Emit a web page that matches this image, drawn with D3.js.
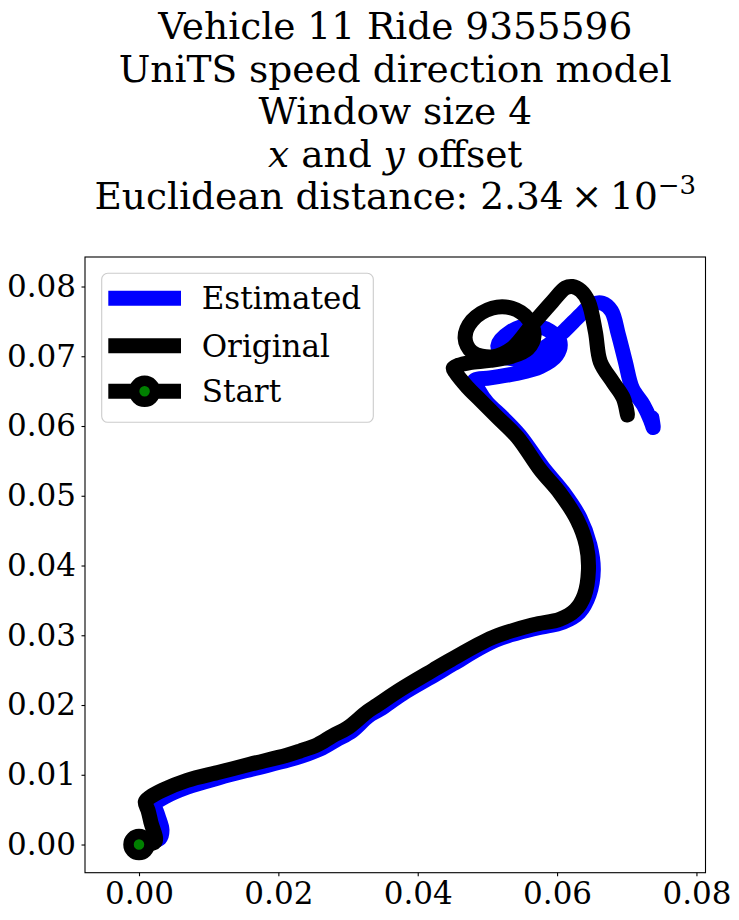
<!DOCTYPE html>
<html>
<head>
<meta charset="utf-8">
<script src="https://cdn.jsdelivr.net/npm/d3@7"></script>
<style>
  html, body { margin: 0; padding: 0; background: #fff; }
  svg { display: block; font-family: "DejaVu Serif", serif; }
</style>
</head>
<body>
<div id="chart"></div>
<script>
// ---------- data ----------
const titleLines = ["Vehicle 11 Ride 9355596", "UniTS speed direction model", "Window size 4"];
const xTicks = [0.00, 0.02, 0.04, 0.06, 0.08];
const yTicks = [0.00, 0.01, 0.02, 0.03, 0.04, 0.05, 0.06, 0.07, 0.08];
const legendLabels = ["Estimated", "Original", "Start"];
const startPoint = [0, 0];

const estimatedX = [0, 0.0030, 0.0033, 0.0027, 0.0023, 0.0037, 0.0069, 0.0116, 0.0162, 0.0214, 0.0234, 0.0260, 0.0283, 0.0306, 0.0329, 0.0346, 0.0378, 0.0426, 0.0451, 0.0512, 0.0570, 0.0609, 0.0632, 0.0646, 0.0652, 0.0647, 0.0633, 0.0609, 0.0580, 0.0546, 0.0517, 0.0500, 0.0487, 0.0481, 0.0504, 0.0540, 0.0576, 0.0599, 0.0604, 0.0590, 0.0561, 0.0533, 0.0515, 0.0525, 0.0554, 0.0587, 0.0612, 0.0633, 0.0650, 0.0665, 0.0678, 0.0688, 0.0698, 0.0708, 0.0724, 0.0734, 0.0738, 0.0736];
const estimatedY = [0, 0.0009, 0.0021, 0.0042, 0.0058, 0.0068, 0.0082, 0.0096, 0.0108, 0.0121, 0.0127, 0.0137, 0.0150, 0.0163, 0.0184, 0.0194, 0.0216, 0.0244, 0.0259, 0.0293, 0.0310, 0.0319, 0.0333, 0.0358, 0.0394, 0.0430, 0.0468, 0.0505, 0.0540, 0.0587, 0.0617, 0.0633, 0.0652, 0.0665, 0.0669, 0.0675, 0.0685, 0.0701, 0.0721, 0.0736, 0.0744, 0.0735, 0.0715, 0.0699, 0.0699, 0.0716, 0.0738, 0.0759, 0.0774, 0.0776, 0.0765, 0.0731, 0.0692, 0.0654, 0.0630, 0.0609, 0.0598, 0.0612];

const originalX = [0, 0.0023, 0.0017, 0.0013, 0.0009, 0.0016, 0.0034, 0.0069, 0.0116, 0.0159, 0.0212, 0.0231, 0.0256, 0.0278, 0.0299, 0.0327, 0.0342, 0.0375, 0.0422, 0.0446, 0.0508, 0.0566, 0.0604, 0.0626, 0.0639, 0.0645, 0.0642, 0.0629, 0.0604, 0.0576, 0.0543, 0.0514, 0.0490, 0.0471, 0.0454, 0.0451, 0.0458, 0.0475, 0.0504, 0.0535, 0.0558, 0.0567, 0.0558, 0.0535, 0.0507, 0.0478, 0.0468, 0.0478, 0.0507, 0.0535, 0.0564, 0.0593, 0.0612, 0.0622, 0.0634, 0.0645, 0.0655, 0.0662, 0.0680, 0.0695, 0.0701, 0.0699];
const originalY = [0, 0.0004, 0.0032, 0.0049, 0.0061, 0.0068, 0.0078, 0.0092, 0.0104, 0.0115, 0.0128, 0.0134, 0.0143, 0.0156, 0.0167, 0.0190, 0.0200, 0.0222, 0.0250, 0.0264, 0.0297, 0.0315, 0.0323, 0.0336, 0.0357, 0.0393, 0.0429, 0.0465, 0.0504, 0.0537, 0.0584, 0.0613, 0.0637, 0.0656, 0.0677, 0.0683, 0.0687, 0.0691, 0.0694, 0.0700, 0.0711, 0.0730, 0.0754, 0.0769, 0.0769, 0.0751, 0.0726, 0.0706, 0.0699, 0.0711, 0.0745, 0.0778, 0.0798, 0.0800, 0.0794, 0.0778, 0.0735, 0.0692, 0.0663, 0.0640, 0.0616, 0.0628];

// ---------- layout ----------
const W = 739, H = 920;
const plot = { left: 85, right: 705.5, top: 257, bottom: 872.7 };
const xDomain = [-0.00775, 0.0813];
const yDomain = [-0.00404, 0.08423];

const svg = d3.select("#chart").append("svg")
  .attr("width", W).attr("height", H)
  .attr("viewBox", `0 0 ${W} ${H}`);

svg.append("rect").attr("width", W).attr("height", H).attr("fill", "#fff");

const x = d3.scaleLinear().domain(xDomain).range([plot.left, plot.right]);
const y = d3.scaleLinear().domain(yDomain).range([plot.bottom, plot.top]);

// ---------- title ----------
const cx = (plot.left + plot.right) / 2;
const titleG = svg.append("g").attr("font-size", 37.5).attr("text-anchor", "middle").attr("fill", "#000");
const baselines = [39, 81.5, 124, 166.5, 209];
titleLines.forEach((t, i) => {
  titleG.append("text").attr("x", cx).attr("y", baselines[i]).text(t);
});
const l4 = titleG.append("text").attr("x", cx).attr("y", baselines[3]);
l4.append("tspan").attr("font-style", "italic").text("x");
l4.append("tspan").text(" and ");
l4.append("tspan").attr("font-style", "italic").text("y");
l4.append("tspan").text(" offset");
const l5 = titleG.append("text").attr("x", cx).attr("y", baselines[4]);
l5.append("tspan").text("Euclidean distance: 2.34\u2009\u00d7\u200910");
l5.append("tspan").attr("font-size", 26).attr("dy", -15).text("\u22123");

// ---------- lines ----------
svg.append("clipPath").attr("id", "clip").append("rect")
  .attr("x", plot.left).attr("y", plot.top)
  .attr("width", plot.right - plot.left).attr("height", plot.bottom - plot.top);

const line = d3.line().curve(d3.curveCatmullRom.alpha(0.5)).x(d => x(d[0])).y(d => y(d[1]));
const estimated = estimatedX.map((v, i) => [v, estimatedY[i]]);
const original = originalX.map((v, i) => [v, originalY[i]]);
const LW = 15;

const lines = svg.append("g").attr("clip-path", "url(#clip)");
lines.append("path").datum(estimated).attr("d", line)
  .attr("fill", "none").attr("stroke", "#0000ff").attr("stroke-width", LW)
  .attr("stroke-linejoin", "round").attr("stroke-linecap", "round");
lines.append("path").datum(original).attr("d", line)
  .attr("fill", "none").attr("stroke", "#000").attr("stroke-width", LW)
  .attr("stroke-linejoin", "round").attr("stroke-linecap", "round");

function marker(g, px, py) {
  g.append("circle").attr("cx", px).attr("cy", py).attr("r", 10.5)
    .attr("fill", "#008000").attr("stroke", "#000").attr("stroke-width", 10.5);
}
marker(lines, x(startPoint[0]), y(startPoint[1]));

// ---------- axes ----------
const xAxis = d3.axisBottom(x).tickValues(xTicks).tickFormat(d3.format(".2f"))
  .tickSize(3.5).tickPadding(6);
const yAxis = d3.axisLeft(y).tickValues(yTicks).tickFormat(d3.format(".2f"))
  .tickSize(3.5).tickPadding(5.5);

const gx = svg.append("g").attr("transform", `translate(0,${plot.bottom})`).call(xAxis);
const gy = svg.append("g").attr("transform", `translate(${plot.left},0)`).call(yAxis);
[gx, gy].forEach(g => {
  g.select(".domain").remove();
  g.selectAll("text").attr("font-family", "DejaVu Serif, serif").attr("font-size", 31).attr("fill", "#000");
  g.selectAll("line").attr("stroke", "#000").attr("stroke-width", 1.1);
});

svg.append("rect")
  .attr("x", plot.left).attr("y", plot.top)
  .attr("width", plot.right - plot.left).attr("height", plot.bottom - plot.top)
  .attr("fill", "none").attr("stroke", "#000").attr("stroke-width", 1.1);

// ---------- legend ----------
const leg = svg.append("g");
leg.append("rect").attr("x", 101.7).attr("y", 273.3).attr("width", 271.6).attr("height", 149)
  .attr("rx", 6).attr("ry", 6)
  .attr("fill", "#fff").attr("fill-opacity", 0.8)
  .attr("stroke", "#cccccc").attr("stroke-width", 1.1);
const legY = [298.3, 345.7, 391.3];
const legColors = ["#0000ff", "#000", "#000"];
legendLabels.forEach((lab, i) => {
  leg.append("line").attr("x1", 108.3).attr("x2", 181).attr("y1", legY[i]).attr("y2", legY[i])
    .attr("stroke", legColors[i]).attr("stroke-width", LW);
  if (i === 2) marker(leg, 144.6, legY[i]);
  leg.append("text").attr("x", 201.7).attr("y", legY[i]).attr("dy", "0.36em")
    .attr("font-size", 31).attr("fill", "#000").text(lab);
});
</script>
</body>
</html>
